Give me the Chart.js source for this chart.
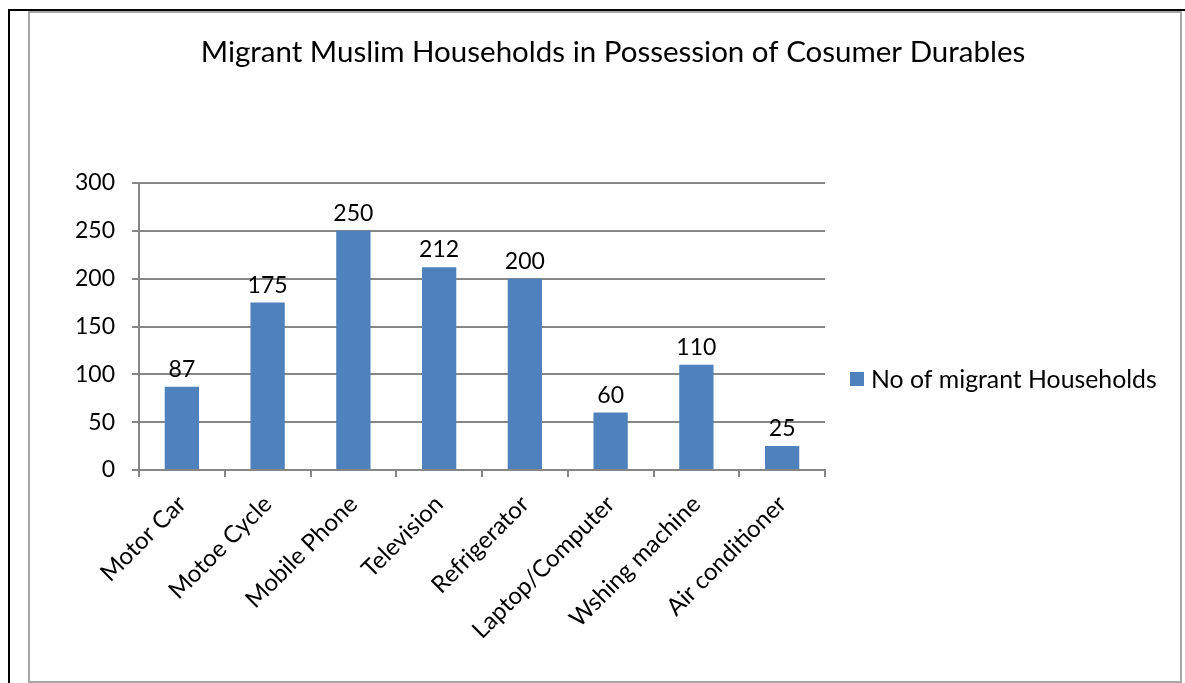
<!DOCTYPE html>
<html>
<head>
<meta charset="utf-8">
<script src="https://cdn.jsdelivr.net/npm/chart.js@4"></script>
<style>
    html, body { margin: 0; padding: 0; background: #fff; }
    body { width: 1185px; height: 683px; position: relative; overflow: hidden; }
    #frame {
        position: absolute; left: 8px; top: 9px; width: 1200px; height: 700px;
        border-left: 2px solid #000; border-top: 2px solid #000;
    }
    #box {
        position: absolute; left: 28px; top: 11px; width: 1150px; height: 668px;
        border: 2px solid #a6a6a6;
    }
    #chart { position: absolute; left: 0; top: 0; }
</style>
</head>
<body>
<div id="frame"></div>
<div id="box"><canvas id="chart" width="1150" height="668"></canvas></div>
<script>
// chart data
const chartTitle = 'Migrant Muslim Households in Possession of Cosumer Durables';
const categories = ['Motor Car', 'Motoe Cycle', 'Mobile Phone', 'Television', 'Refrigerator',
    'Laptop/Computer', 'Wshing machine', 'Air conditioner'];
const households = [87, 175, 250, 212, 200, 60, 110, 25];
const seriesLabel = 'No of migrant Households';
const yTicks = [0, 50, 100, 150, 200, 250, 300];

const barColor = '#4f81bd';
const fontFamily = 'Lato, "Open Sans", sans-serif';

// value labels above each bar
const barLabels = {
    id: 'barLabels',
    afterDatasetsDraw(chart) {
        const ctx = chart.ctx;
        const meta = chart.getDatasetMeta(0);
        ctx.save();
        ctx.font = `23px ${fontFamily}`;
        ctx.fillStyle = '#000';
        ctx.textAlign = 'center';
        ctx.textBaseline = 'bottom';
        meta.data.forEach((bar, i) => {
            ctx.fillText(chart.data.datasets[0].data[i], bar.x, bar.y - 6);
        });
        ctx.restore();
    }
};

// title centred over the whole box and legend to the right of the plot
const titleAndLegend = {
    id: 'titleAndLegend',
    afterDraw(chart) {
        const ctx = chart.ctx;
        const ds = chart.data.datasets[0];
        ctx.save();
        ctx.fillStyle = '#000';
        ctx.textBaseline = 'middle';
        ctx.textAlign = 'center';
        ctx.font = `29.5px ${fontFamily}`;
        ctx.fillText(chartTitle, 583, 39);

        const lx = chart.chartArea.right + 25;
        const ly = 366;
        ctx.fillStyle = ds.backgroundColor;
        ctx.fillRect(lx, ly - 7, 14, 14);
        ctx.fillStyle = '#000';
        ctx.textAlign = 'left';
        ctx.font = `24.8px ${fontFamily}`;
        ctx.fillText(ds.label, lx + 21, ly + 1);
        ctx.restore();
    }
};

new Chart(document.getElementById('chart'), {
    type: 'bar',
    data: {
        labels: categories,
        datasets: [{
            label: seriesLabel,
            data: households,
            backgroundColor: barColor,
            categoryPercentage: 1.0,
            barPercentage: 0.4
        }]
    },
    options: {
        responsive: false,
        devicePixelRatio: 1,
        animation: false,
        layout: { padding: { left: 0, top: 170, right: 355, bottom: 0 } },
        plugins: {
            legend: { display: false },
            title: { display: false },
            tooltip: { enabled: false }
        },
        scales: {
            x: {
                grid: { display: true, drawOnChartArea: false, offset: true, color: '#868686', lineWidth: 2, tickLength: 7 },
                border: { color: '#868686', width: 2 },
                ticks: {
                    color: '#000',
                    font: { family: fontFamily, size: 24 },
                    maxRotation: 45,
                    minRotation: 45,
                    autoSkip: false,
                    padding: 13
                },
                afterFit(scale) { scale.height = 211; }
            },
            y: {
                min: 0,
                max: 300,
                afterBuildTicks(scale) { scale.ticks = yTicks.map(v => ({ value: v })); },
                grid: { color: '#868686', lineWidth: 2, tickLength: 7 },
                border: { color: '#868686', width: 2 },
                ticks: {
                    color: '#000',
                    font: { family: fontFamily, size: 23 },
                    padding: 17
                },
                afterFit(scale) { scale.width = 109; }
            }
        }
    },
    plugins: [barLabels, titleAndLegend]
});
</script>
</body>
</html>
